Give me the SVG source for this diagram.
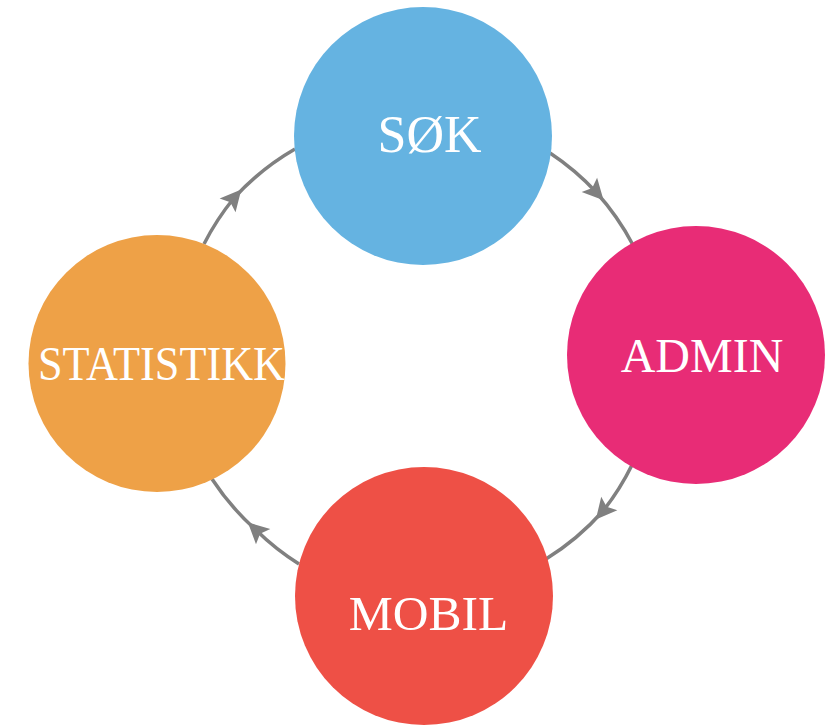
<svg xmlns="http://www.w3.org/2000/svg" width="833" height="725" viewBox="0 0 833 725">
<style>
.lbl{font-family:"Liberation Serif","Times New Roman",serif;fill:#ffffff;text-anchor:middle}
.arc{fill:none;stroke:#808080;stroke-width:3.5;marker-mid:url(#ah)}
</style>
<defs>
<marker id="ah" viewBox="-10 -10 20 20" refX="0" refY="0" markerWidth="28" markerHeight="28" markerUnits="userSpaceOnUse" orient="auto">
<path d="M8,0 L-7,-7.5 L-4,0 L-7,7.5 Z" fill="#808080"/>
</marker>
</defs>
<rect width="833" height="725" fill="#ffffff"/>
<g id="connectors">
<path class="arc" d="M550,153 A256,256 0 0 1 596,192 A256,256 0 0 1 633,245"/>
<path class="arc" d="M632,465 A256,256 0 0 1 603,511 A256,256 0 0 1 546,559"/>
<path class="arc" d="M299,564 A256,256 0 0 1 256,530 A256,256 0 0 1 212,479"/>
<path class="arc" d="M204,244 A256,256 0 0 1 234,198 A256,256 0 0 1 295,149"/>
</g>
<g id="sok">
<circle cx="423" cy="136" r="129" fill="#65B3E1"/>
<text class="lbl" x="429.5" y="152" font-size="52">SØK</text>
</g>
<g id="admin">
<circle cx="696" cy="355" r="129" fill="#E82C76"/>
<text class="lbl" x="702" y="372" font-size="48">ADMIN</text>
</g>
<g id="mobil">
<circle cx="424" cy="596" r="129" fill="#EE5046"/>
<text class="lbl" x="428.5" y="630" font-size="49.5">MOBIL</text>
</g>
<g id="statistikk">
<circle cx="157" cy="363.5" r="128.5" fill="#EEA147"/>
<text class="lbl" x="161.5" y="380" font-size="48" textLength="247" lengthAdjust="spacingAndGlyphs">STATISTIKK</text>
</g>
</svg>
